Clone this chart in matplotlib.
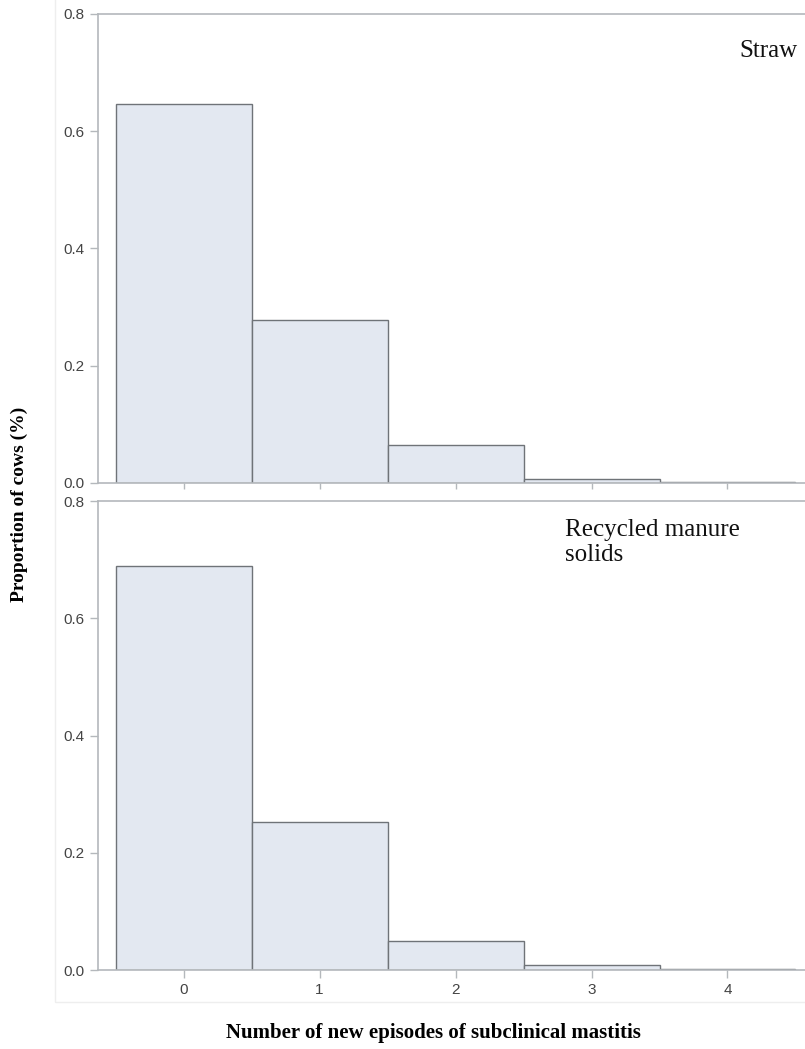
import numpy as np
import matplotlib
matplotlib.use("Agg")
import matplotlib.pyplot as plt
from matplotlib.patches import Rectangle

# data
episodes = [0, 1, 2, 3, 4]
straw = [0.647, 0.278, 0.065, 0.007, 0.002]
rms = [0.689, 0.253, 0.049, 0.008, 0.001]
panel_labels = ["Straw", "Recycled manure\nsolids"]

face = "#e3e8f1"
edge = "#6f7378"
axis_col = "#b4b8bc"

fig = plt.figure(figsize=(8.05, 10.49), dpi=100)

# faint outer frame around the plot area
fig.patches.append(Rectangle((55 / 805, 1 - 1002 / 1049), 1, 1.01,
                             transform=fig.transFigure, fill=False,
                             edgecolor="#eeeeee", linewidth=1))

ax1 = fig.add_axes([0.1217, 0.5396, 0.8783, 0.4471])
ax2 = fig.add_axes([0.1217, 0.0753, 0.8783, 0.4471])

for ax, vals in zip([ax1, ax2], [straw, rms]):
    ax.bar(episodes, vals, width=1.0, color=face, edgecolor=edge, linewidth=1.0)
    ax.set_xlim(-0.63, 4.57)
    ax.set_ylim(0, 0.8)
    ax.set_yticks([0.0, 0.2, 0.4, 0.6, 0.8])
    ax.set_xticks(episodes)
    ax.spines["right"].set_visible(False)
    for s in ["left", "top", "bottom"]:
        ax.spines[s].set_color(axis_col)
        ax.spines[s].set_linewidth(1.2)
    ax.tick_params(colors=axis_col, labelcolor="#444444", labelsize=11,
                   length=6, width=1)
    for lab in ax.get_yticklabels() + ax.get_xticklabels():
        lab.set_family("Liberation Sans")

ax1.tick_params(axis="x", labelbottom=False, length=4)
ax1.text(0.99, 0.922, panel_labels[0], transform=ax1.transAxes, ha="right",
         va="center", family="Liberation Serif", fontsize=18, color="#111111")
ax2.text(0.66, 0.962, panel_labels[1], transform=ax2.transAxes, ha="left",
         va="top", family="Liberation Serif", fontsize=18, color="#111111",
         linespacing=1.2)

fig.text(0.024, 0.519, "Proportion of cows (%)", rotation=90, ha="center",
         va="center", family="Liberation Serif", weight="bold", fontsize=14)
fig.text(0.538, 0.015, "Number of new episodes of subclinical mastitis",
         ha="center", va="center", family="Liberation Serif", weight="bold",
         fontsize=15)

fig.savefig("out.png", dpi=100)
